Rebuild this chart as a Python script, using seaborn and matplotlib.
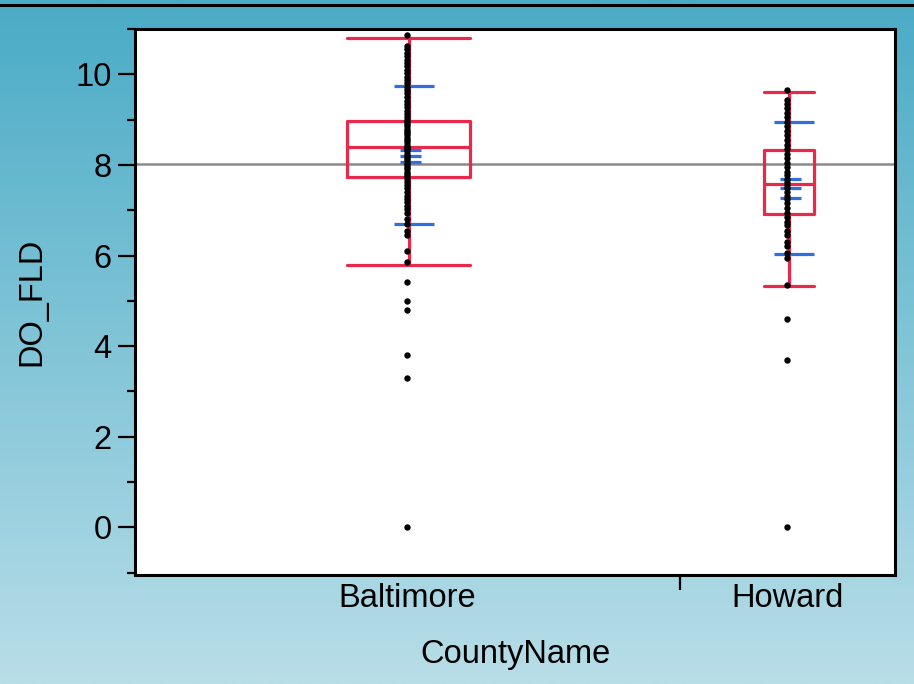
import numpy as np
import pandas as pd
import matplotlib
matplotlib.use("Agg")
import matplotlib.pyplot as plt
from matplotlib.colors import LinearSegmentedColormap
from matplotlib.lines import Line2D
import seaborn as sns

# valori
counties = ["Baltimore", "Howard"]
baltimore_do = [10.87, 10.62, 10.55, 10.48, 10.4, 10.32, 10.25, 10.18, 10.1, 10.02,
                9.95, 9.88, 9.8, 9.72, 9.65, 9.58, 9.5, 9.42, 9.35, 9.28, 9.2, 9.12,
                9.05, 9.0, 8.95, 8.9, 8.85, 8.8, 8.75, 8.7, 8.65, 8.6, 8.55, 8.5,
                8.45, 8.4, 8.38, 8.35, 8.3, 8.25, 8.2, 8.15, 8.1, 8.05, 8.0, 7.95,
                7.9, 7.85, 7.8, 7.75, 7.7, 7.62, 7.55, 7.48, 7.4, 7.32, 7.25, 7.18,
                7.1, 7.02, 6.95, 6.8, 6.7, 6.55, 6.45, 6.1, 5.85, 5.41, 5.0, 4.8,
                3.8, 3.3, 0.0]
howard_do = [9.65, 9.43, 9.35, 9.25, 9.15, 9.05, 8.95, 8.85, 8.75, 8.65, 8.55, 8.45,
             8.35, 8.25, 8.15, 8.05, 7.95, 7.85, 7.78, 7.7, 7.62, 7.55, 7.48, 7.4,
             7.32, 7.25, 7.15, 7.05, 6.95, 6.85, 6.75, 6.68, 6.55, 6.45, 6.3, 6.2,
             6.05, 5.95, 5.34, 4.61, 3.70, 0.0]

# quantili (box) e medie
q1 = [7.73, 6.91]
median = [8.39, 7.59]
q3 = [8.98, 8.32]
whisk_lo = [5.8, 5.32]
whisk_hi = [10.8, 9.6]
mean = [8.2, 7.49]
ci_lo = [8.07, 7.28]
ci_hi = [8.34, 7.69]
sd_lo = [6.69, 6.03]
sd_hi = [9.75, 8.95]
grand_mean = 8.01
box_widths = [0.322, 0.132]

df = pd.DataFrame({
    "CountyName": ["Baltimore"] * len(baltimore_do) + ["Howard"] * len(howard_do),
    "DO_FLD": baltimore_do + howard_do,
})

sns.set_style("white")
plt.rcParams["font.family"] = ["Liberation Sans", "DejaVu Sans"]
plt.rcParams["text.color"] = "black"
plt.rcParams["axes.labelcolor"] = "black"

fig = plt.figure(figsize=(9.14, 6.84), dpi=100)

# sfondo sfumato
bg = fig.add_axes([0, 0, 1, 1], zorder=-10)
cmap = LinearSegmentedColormap.from_list("bg", ["#4aabc6", "#b8dee8"])
bg.imshow(np.linspace(0, 1, 256).reshape(-1, 1), aspect="auto", cmap=cmap,
          extent=[0, 1, 0, 1], origin="upper")
bg.axis("off")
fig.add_artist(Line2D([0, 1], [1 - 5 / 684, 1 - 5 / 684], color="black", lw=2.2))

ax = fig.add_axes([135 / 914, 1 - 575 / 684, 760 / 914, 546 / 684])
ax.set_facecolor("white")

ax.axhline(grand_mean, color="#8a8a8a", lw=1.8, zorder=1)

red = "#e8294c"
blue = "#2f6fe0"
stats = []
for i in range(len(counties)):
    stats.append(dict(med=median[i], q1=q1[i], q3=q3[i],
                      whislo=whisk_lo[i], whishi=whisk_hi[i], fliers=[]))
ax.bxp(stats, positions=[0.004, 1.004], widths=box_widths, capwidths=box_widths,
       showfliers=False, manage_ticks=False,
       boxprops=dict(color=red, lw=2.3),
       medianprops=dict(color=red, lw=2.3),
       whiskerprops=dict(color=red, lw=2.3),
       capprops=dict(color=red, lw=2.3), zorder=2)

for i in range(len(counties)):
    for v in [sd_lo[i], sd_hi[i]]:
        ax.hlines(v, i - 0.034, i + 0.071, color=blue, lw=2.3, zorder=3)
    for v in [ci_lo[i], mean[i], ci_hi[i]]:
        ax.hlines(v, i - 0.018, i + 0.037, color=blue, lw=2.3, zorder=3)

sns.stripplot(data=df, x="CountyName", y="DO_FLD", order=counties, jitter=False,
              color="black", size=4.6, linewidth=0, ax=ax, zorder=4)

ax.set_xlim(-0.716, 1.284)
ax.set_ylim(-1.05, 11.0)
ax.set_yticks([0, 2, 4, 6, 8, 10])
ax.set_yticks([-1, 1, 3, 5, 7, 9, 11], minor=True)
ax.set_xticks([0, 1])
ax.set_xticklabels(counties)
ax.set_xticks([0.718], minor=True)

ax.tick_params(axis="y", which="major", left=True, length=12, width=1.6,
               labelsize=23.5, pad=5, color="black", labelcolor="black")
ax.tick_params(axis="y", which="minor", left=True, length=6, width=1.6, color="black")
ax.tick_params(axis="x", which="major", bottom=False, length=0, labelsize=23.5, pad=6,
               labelcolor="black")
ax.tick_params(axis="x", which="minor", bottom=True, length=11, width=1.6, color="black")

for s in ax.spines.values():
    s.set_color("black")
    s.set_linewidth(2.2)

ax.set_xlabel("CountyName", fontsize=23.5, labelpad=18)
ax.set_ylabel("DO_FLD", fontsize=23.5, labelpad=20)

plt.savefig("out.png", dpi=100)
